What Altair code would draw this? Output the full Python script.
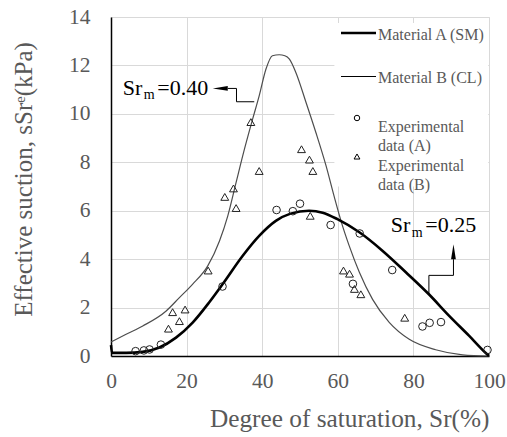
import altair as alt
import pandas as pd

# ---------------- data ----------------
# Material A (SM) model curve
a_x = [0, 0.3, 4, 8.4, 12.8, 17.2, 21.6, 26.0, 29.5, 34.8, 39.2, 43.6, 47.5, 52.4, 56.0, 59.9, 65.7, 71.8, 78.0, 84.1, 89.4, 94.7, 99.5, 100]
a_y = [0.45, 0.13, 0.13, 0.17, 0.35, 0.76, 1.38, 2.22, 2.96, 4.13, 4.96, 5.58, 5.88, 6.0, 5.92, 5.65, 5.11, 4.35, 3.46, 2.55, 1.67, 0.84, 0.07, 0]
# Material B (CL) model curve
b_x = [0, 4, 8.4, 14.6, 18.1, 21.5, 25.6, 28.7, 30.9, 33.1, 35.3, 37.5, 39.2, 41.0, 42.7, 44.5, 46.0, 47.2, 48.9, 51.6, 54.2, 56.9, 59.0, 61.0, 63.0, 65.7, 69.2, 73.6, 78.9, 85.9, 93.0, 100]
b_y = [0.58, 0.9, 1.24, 1.86, 2.41, 2.95, 3.72, 4.75, 5.79, 7.17, 8.54, 9.8, 10.74, 11.85, 12.4, 12.44, 12.4, 12.26, 11.71, 10.47, 9.23, 7.85, 6.61, 5.5, 4.56, 3.46, 2.34, 1.39, 0.69, 0.26, 0.05, 0]
# Experimental data (A)
ea_x = [6.5, 8.7, 10.2, 13.2, 29.5, 43.8, 48.1, 50.0, 58.1, 65.8, 64.0, 74.4, 82.4, 84.3, 87.3, 99.6]
ea_y = [0.2, 0.23, 0.27, 0.47, 2.87, 6.03, 5.98, 6.29, 5.41, 5.06, 2.98, 3.55, 1.22, 1.37, 1.40, 0.25]
# Experimental data (B)
eb_x = [15.2, 16.3, 18.1, 19.6, 25.7, 30.1, 32.4, 33.1, 37.0, 39.2, 50.4, 52.5, 53.4, 52.7, 61.5, 63.1, 64.4, 66.1, 77.7]
eb_y = [1.13, 1.81, 1.44, 1.92, 3.53, 6.57, 6.92, 6.11, 9.66, 7.64, 8.54, 8.11, 7.64, 5.79, 3.53, 3.40, 2.77, 2.55, 1.58]

# Annotation leader lines (Sr_m labels)
ann40_x = [37.9, 33.2, 33.2, 30.9]
ann40_y = [10.5, 10.5, 11.05, 11.05]
ann25_x = [84.1, 84.1, 90.6, 90.6]
ann25_y = [2.55, 3.33, 3.33, 4.0]
head_x = [28.9, 90.6]
head_y = [11.05, 4.31]
label_x = [3.1, 74.0]
label_y = [10.79, 5.12]
label_val = ["=0.40", "=0.25"]

# legend background box (data coordinates)
box = pd.DataFrame({"x": [59.1], "x2": [99.8], "y": [7.0], "y2": [13.75]})

FONT = "Liberation Serif"
GREY = "#595959"
W, H = 378, 339

xs = alt.Scale(domain=[0, 100], nice=False, zero=False)
ys = alt.Scale(domain=[0, 14], nice=False, zero=False)

x_axis = alt.Axis(
    values=[0, 20, 40, 60, 80, 100], title="Degree of saturation, Sr(%)",
    ticks=False, labelPadding=14, labelFontSize=21.5, labelColor=GREY, labelFont=FONT, labelFlush=False,
    titleFont=FONT, titleFontSize=25.3, titleColor=GREY, titleFontWeight="normal",
    titleAnchor="end", titleBaseline="alphabetic", titleY=70,
    grid=True, gridColor="#d9d9d9", domainColor="black", domainWidth=1.5,
)
y_axis = alt.Axis(
    values=[0, 2, 4, 6, 8, 10, 12, 14], title="Effective suction, sSrᵉ(kPa)",
    ticks=False, labelPadding=21, labelFontSize=21.5, labelColor=GREY, labelFont=FONT, labelFlush=False,
    titleFont=FONT, titleFontSize=25, titleColor=GREY, titleFontWeight="normal",
    titleAngle=270, titleAlign="center", titleBaseline="middle", titleX=-88, titleY=162,
    grid=True, gridColor="#d9d9d9", domainColor="black", domainWidth=1.5,
)
X = alt.X("x:Q", scale=xs, axis=x_axis)
Y = alt.Y("y:Q", scale=ys, axis=y_axis)

one = pd.DataFrame({"k": [0]})

bg = alt.Chart(box).mark_rect(fill="white", stroke=None).encode(
    x=X, x2="x2:Q", y=Y, y2="y2:Q")

dfB = pd.DataFrame({"x": b_x, "y": b_y, "i": range(len(b_x))})
lineB = alt.Chart(dfB).mark_line(color="#4d4d4d", strokeWidth=1.2, interpolate="monotone").encode(
    x=X, y=Y, order="i:Q")

dfA = pd.DataFrame({"x": a_x, "y": a_y, "i": range(len(a_x))})
lineA = alt.Chart(dfA).mark_line(color="black", strokeWidth=2.6, interpolate="monotone").encode(
    x=X, y=Y, order="i:Q")

ptsA = alt.Chart(pd.DataFrame({"x": ea_x, "y": ea_y})).mark_point(
    shape="circle", filled=False, color="#222222", strokeWidth=1, size=58, opacity=1).encode(x=X, y=Y)
ptsB = alt.Chart(pd.DataFrame({"x": eb_x, "y": eb_y})).mark_point(
    shape="triangle-up", filled=False, color="#222222", strokeWidth=1, size=62, opacity=1).encode(x=X, y=Y)

ann = pd.DataFrame({
    "x": ann40_x + ann25_x, "y": ann40_y + ann25_y,
    "g": ["a"] * len(ann40_x) + ["b"] * len(ann25_x),
    "i": list(range(len(ann40_x))) + list(range(len(ann25_x))),
})
annLines = alt.Chart(ann).mark_line(color="black", strokeWidth=1).encode(
    x=X, y=Y, detail="g:N", order="i:Q")

heads = pd.DataFrame({"x": head_x, "y": head_y,
                      "s": ["M -1 0 L 1 -0.32 L 1 0.32 Z", "M 0 -1 L -0.32 1 L 0.32 1 Z"]})
headMarks = alt.Chart(heads).mark_point(filled=True, color="black", size=225, opacity=1).encode(
    x=X, y=Y, shape=alt.Shape("s:N", scale=None, legend=None))

lab = pd.DataFrame({"x": label_x, "y": label_y, "v": label_val})
labSr = alt.Chart(lab).mark_text(font=FONT, fontSize=22, color="black", align="left",
                                 baseline="alphabetic").encode(x=X, y=Y, text=alt.value("Sr"))
labM = alt.Chart(lab).mark_text(font=FONT, fontSize=14, color="black", align="left",
                                baseline="alphabetic", dx=21, dy=4.5).encode(x=X, y=Y, text=alt.value("m"))
labV = alt.Chart(lab).mark_text(font=FONT, fontSize=22, color="black", align="left",
                                baseline="alphabetic", dx=34.5).encode(x=X, y=Y, text="v:N")

# -------- manual legend (pixel positions inside the plot) --------
LX0, LX1, LT = 230, 265, 267
legA = alt.Chart(one).mark_rule(color="black", strokeWidth=2.6).encode(
    x=alt.value(LX0), x2=alt.value(LX1), y=alt.value(16))
legB = alt.Chart(one).mark_rule(color="black", strokeWidth=1.2).encode(
    x=alt.value(LX0), x2=alt.value(LX1), y=alt.value(59.5))
legC = alt.Chart(one).mark_point(shape="circle", filled=False, color="black", strokeWidth=1, size=30, opacity=1).encode(
    x=alt.value(246), y=alt.value(101))
legT = alt.Chart(one).mark_point(shape="triangle-up", filled=False, color="black", strokeWidth=1, size=34, opacity=1).encode(
    x=alt.value(246), y=alt.value(139.5))

def legtext(txt, y):
    return alt.Chart(one).mark_text(font=FONT, fontSize=16, color=GREY, align="left",
                                    baseline="middle", lineBreak="\n", lineHeight=18.5).encode(
        x=alt.value(LT), y=alt.value(y), text=alt.value(txt))

legTexts = [
    legtext("Material A (SM)", 17.5),
    legtext("Material B (CL)", 60.5),
    legtext("Experimental\ndata (A)", 110),
    legtext("Experimental\ndata (B)", 149),
]

chart = alt.layer(
    bg, lineB, lineA, ptsA, ptsB, annLines, headMarks, labSr, labM, labV,
    legA, legB, legC, legT, *legTexts
).properties(
    width=W, height=H,
    autosize=alt.AutoSizeParams(type="none"),
    padding={"left": 111, "top": 17, "right": 18, "bottom": 81},
).configure_view(
    stroke="#555555", strokeWidth=1
).configure(background="white")

chart.save("out.html", embed_options={"renderer": "svg", "actions": False})
